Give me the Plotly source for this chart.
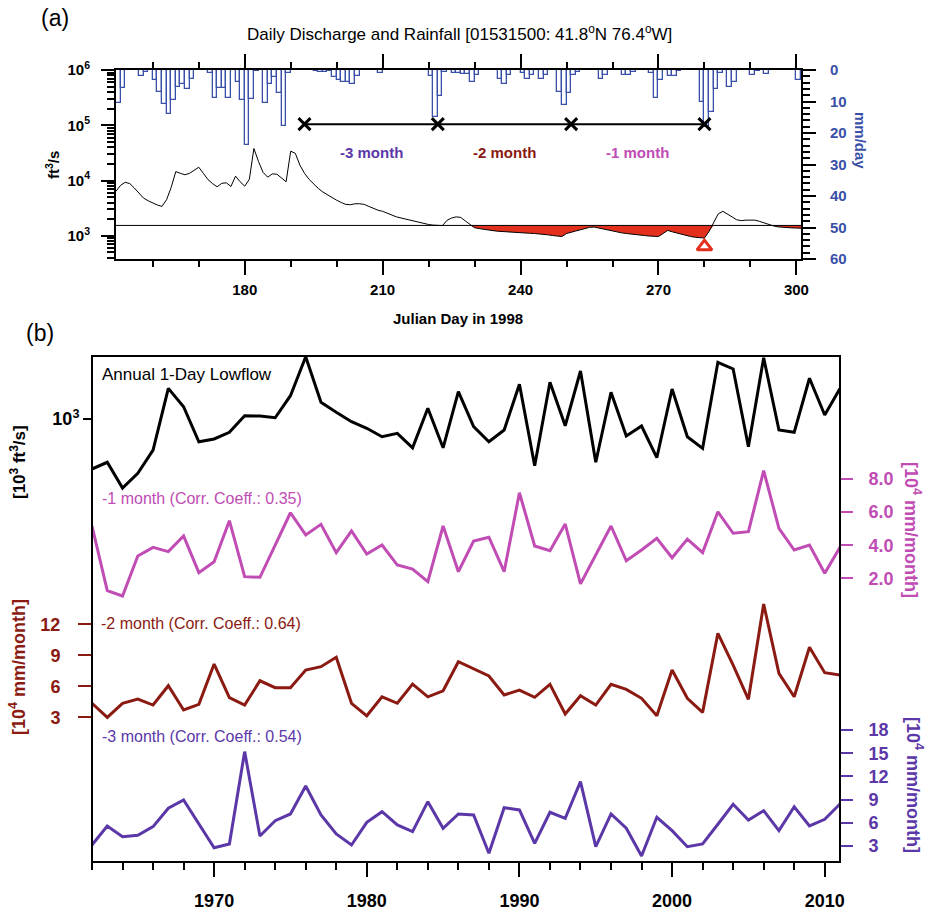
import plotly.graph_objects as go

# ---------------- Panel (a) data ----------------
days = list(range(152, 302))
discharge = [
    6400, 8200, 9300, 8800, 7300, 5800, 4800, 4300, 3900, 3600,
    3400, 4500, 7500, 14500, 13500, 12700, 13500, 15500, 17400, 13500,
    10400, 8800, 7700, 8900, 9100, 7800, 12000, 9500, 7900, 10500,
    38000, 22000, 14000, 11500, 13200, 13000, 11000, 9500, 34000, 31000,
    19000, 13500, 10500, 8500, 7200, 6200, 5500, 4900, 4400, 4000,
    3700, 3650, 3800, 3800, 3700, 3400, 3100, 2900, 2770, 2550,
    2350, 2200, 2100, 2000, 1900, 1800, 1720, 1650, 1600, 1560,
    1540, 1530, 1900, 2100, 2200, 2150, 1850, 1580, 1400, 1350,
    1300, 1270, 1240, 1210, 1190, 1170, 1160, 1150, 1130, 1120,
    1110, 1100, 1090, 1070, 1040, 1010, 980, 970, 1100, 1170,
    1220, 1280, 1350, 1420, 1440, 1380, 1320, 1250, 1200, 1160,
    1130, 1100, 1070, 1040, 1030, 1010, 990, 975, 970, 1100,
    1250, 1180, 1120, 1060, 1010, 970, 940, 920, 910, 1200,
    1700, 2500, 2770, 2500, 2200, 1950, 1880, 1920, 1950, 1920,
    1820, 1700, 1600, 1510, 1450, 1420, 1400, 1390, 1380, 1370,
]
rain = [
    10.6, 5.8, 0, 0, 0, 1.8, 0.5, 0, 3.2, 6.9,
    10.9, 14.1, 9.5, 5.3, 4.6, 6.0, 2.9, 0, 0, 0,
    1.0, 8.8, 5.6, 5.6, 9.0, 0, 3.7, 9.5, 23.8, 9.2,
    0.3, 0, 10.6, 4.6, 2.1, 7.4, 17.7, 1.0, 0, 0,
    0, 0, 0, 0.3, 0.6, 0.6, 0.3, 2.1, 3.2, 3.7,
    3.7, 4.6, 1.8, 0, 0, 0, 0, 1.0, 0, 0,
    0, 0, 0, 0, 0, 0, 0, 0, 1.8, 14.8,
    8.2, 0.5, 0, 1.0, 1.0, 1.2, 1.2, 3.7, 1.5, 0,
    0, 0, 0, 2.9, 4.5, 1.5, 0, 0, 1.0, 2.9,
    1.5, 0, 2.9, 1.5, 0, 0, 7.1, 11.1, 7.4, 1.5,
    0.5, 0, 0, 0, 0, 2.9, 1.5, 0, 0, 0,
    1.5, 1.5, 0.5, 0, 0, 0, 1.0, 9.0, 3.2, 0,
    1.8, 1.8, 0.3, 0, 0, 0, 0, 10.0, 18.0, 13.4,
    6.0, 1.0, 0, 5.3, 3.9, 0, 0, 0, 1.5, 0.4,
    0, 1.3, 0, 0, 0, 0, 0, 0, 3.2, 0,
]
threshold = 1540
month_marks = [193, 222, 251, 280]
month_labels = ["-3 month", "-2 month", "-1 month"]
a_xticks = [180, 210, 240, 270, 300]

# ---------------- Panel (b) data ----------------
years = list(range(1962, 2012))
lowflow = [
    518, 566, 403, 489, 665, 1496, 1176, 741, 769, 839,
    1044, 1040, 1017, 1359, 2270, 1245, 1092, 965, 885, 792,
    828, 685, 1151, 685, 1432, 904, 741, 865, 1578, 541,
    1622, 915, 1880, 566, 1421, 800, 912, 601, 1484, 792,
    680, 2109, 1931, 695, 2240, 865, 839, 1710, 1054, 1496,
]
rain_1m = [
    5.16, 1.25, 0.93, 3.35, 3.87, 3.61, 4.56, 2.34, 3.0, 5.48,
    2.10, 2.06, 4.0, 5.96, 4.62, 5.26, 3.55, 4.86, 3.47, 4.01,
    2.80, 2.56, 1.80, 5.16, 2.40, 4.25, 4.48, 2.40, 7.17, 3.95,
    3.67, 5.28, 1.66, 3.41, 5.16, 3.06, 3.71, 4.42, 3.24, 4.37,
    3.55, 6.02, 4.72, 4.82, 8.50, 5.02, 3.71, 4.01, 2.30, 3.87,
]
rain_2m = [
    4.36, 3.0, 4.36, 4.77, 4.19, 6.06, 3.71, 4.26, 8.16, 4.9,
    4.19, 6.54, 5.87, 5.87, 7.58, 7.9, 8.81, 4.36, 3.15, 4.99,
    4.36, 6.22, 4.99, 5.57, 8.38, 7.7, 7.0, 5.16, 5.64, 4.94,
    6.19, 3.32, 5.09, 4.19, 6.19, 5.71, 4.84, 3.15, 7.58, 4.84,
    3.48, 11.13, 8.06, 4.74, 13.97, 7.26, 4.99, 9.78, 7.32, 7.10,
]
rain_3m = [
    3.13, 5.59, 4.2, 4.38, 5.5, 7.88, 8.95, 5.84, 2.78, 3.26,
    15.2, 4.29, 6.27, 7.14, 10.76, 7.01, 4.55, 3.13, 6.06, 7.44,
    5.72, 4.85, 8.73, 5.29, 7.14, 7.01, 2.06, 7.95, 7.66, 3.35,
    7.36, 6.58, 11.32, 2.91, 7.14, 5.29, 1.71, 6.71, 4.98, 2.91,
    3.26, 5.81, 8.39, 6.36, 7.57, 4.98, 8.08, 5.59, 6.45, 8.43,
]
corr = {"1m": 0.35, "2m": 0.64, "3m": 0.54}
ticks_1m = [2, 4, 6, 8]
ticks_2m = [3, 6, 9, 12]
ticks_3m = [3, 6, 9, 12, 15, 18]

# ---------------- Style ----------------
W, H = 930, 911
FONT = "Liberation Sans, Arial, sans-serif"
BLUE = "#3a4fa8"
PURPLE = "#5b37a8"
DRED = "#8a1a12"
PINK = "#c04cb4"
RED = "#e3301c"


def fx(px):
    return px / W


def fy(py):
    return 1 - py / H


fig = go.Figure()

fig.add_trace(go.Bar(x=days, y=rain, xaxis="x", yaxis="y2", offset=0, width=1,
                     marker=dict(color="rgba(0,0,0,0)", line=dict(color=BLUE, width=1.3)),
                     showlegend=False))
fig.add_trace(go.Scatter(x=days, y=[threshold] * len(days), xaxis="x", yaxis="y",
                         mode="lines", line=dict(width=0, color=RED), showlegend=False))
fig.add_trace(go.Scatter(x=days, y=[min(q, threshold) for q in discharge], xaxis="x", yaxis="y",
                         mode="lines", line=dict(width=0, color=RED), fill="tonexty",
                         fillcolor=RED, showlegend=False))
fig.add_trace(go.Scatter(x=[days[0], days[-1]], y=[threshold, threshold], xaxis="x", yaxis="y",
                         mode="lines", line=dict(width=1, color="black"), showlegend=False))
fig.add_trace(go.Scatter(x=days, y=discharge, xaxis="x", yaxis="y", mode="lines",
                         line=dict(width=1, color="black"), showlegend=False))
mark_level = 17.2
fig.add_trace(go.Scatter(x=month_marks, y=[mark_level] * len(month_marks), xaxis="x", yaxis="y2",
                         mode="lines+markers", line=dict(width=2, color="black"),
                         marker=dict(symbol="x-thin", size=12, line=dict(width=3, color="black")),
                         showlegend=False))
qmin = min(discharge)
dmin = days[discharge.index(qmin)]
fig.add_trace(go.Scatter(x=[dmin], y=[qmin * 0.7], xaxis="x", yaxis="y", mode="markers",
                         marker=dict(symbol="triangle-up-open", size=13, color=RED,
                                     line=dict(width=3, color=RED)),
                         showlegend=False))

fig.add_trace(go.Scatter(x=years, y=lowflow, xaxis="x2", yaxis="y3", mode="lines",
                         line=dict(width=3, color="black"), showlegend=False))
fig.add_trace(go.Scatter(x=years, y=rain_1m, xaxis="x2", yaxis="y4", mode="lines",
                         line=dict(width=3, color=PINK), showlegend=False))
fig.add_trace(go.Scatter(x=years, y=rain_2m, xaxis="x2", yaxis="y5", mode="lines",
                         line=dict(width=3, color=DRED), showlegend=False))
fig.add_trace(go.Scatter(x=years, y=rain_3m, xaxis="x2", yaxis="y6", mode="lines",
                         line=dict(width=3, color=PURPLE), showlegend=False))

tickf = dict(family=FONT, size=15, color="black", weight="bold")
minor_log = [m * 10 ** e for e in (2, 3, 4, 5) for m in range(2, 10) if 380 <= m * 10 ** e <= 1e6]

common = dict(showgrid=False, zeroline=False, ticks="outside", tickwidth=2, tickcolor="black",
              automargin=False)
sub = dict(showgrid=False, zeroline=False, ticks="outside", tickwidth=2, automargin=False,
           showline=False)

fig.update_layout(
    width=W, height=H, margin=dict(l=0, r=0, t=0, b=0, pad=0, autoexpand=False),
    paper_bgcolor="white", plot_bgcolor="white",
    font=dict(family=FONT, color="black"),
    bargap=0,
    xaxis=dict(domain=[fx(116), fx(801)], range=[days[0], days[-1]], anchor="y",
               tickvals=a_xticks, ticklen=14, showline=True, linewidth=2, linecolor="black",
               mirror="ticks", tickfont=tickf, ticklabelstandoff=2,
               minor=dict(tickvals=[d for d in range(160, 301, 10) if d not in a_xticks],
                          ticks="outside", ticklen=6, tickwidth=1.5, tickcolor="black"),
               **common),
    yaxis=dict(domain=[fy(259), fy(70)], type="log", range=[2.58, 6], anchor="x",
               tickvals=[1e3, 1e4, 1e5, 1e6],
               ticktext=["10<sup>3</sup>", "10<sup>4</sup>", "10<sup>5</sup>", "10<sup>6</sup>"],
               ticklen=13, showline=True, linewidth=2, linecolor="black", tickfont=tickf,
               ticklabelstandoff=8,
               minor=dict(tickvals=minor_log, ticks="outside", ticklen=7, tickwidth=1.5, tickcolor="black"),
               **common),
    yaxis2=dict(overlaying="y", side="right", range=[60, 0], anchor="x",
                tickvals=list(range(0, 61, 10)), ticklen=13, showline=True, linewidth=2,
                linecolor="black", tickfont=dict(family=FONT, size=15, color=BLUE, weight="bold"),
                ticklabelstandoff=11,
                minor=dict(dtick=2, tick0=0, ticks="outside", ticklen=7, tickwidth=1.5, tickcolor="black"),
                **common),
    xaxis2=dict(domain=[fx(92), fx(840)], range=[years[0], years[-1]], anchor="y3",
                dtick=10, tick0=1970, ticklen=14, showline=False,
                tickfont=dict(family=FONT, size=18, color="black", weight="bold"), ticklabelstandoff=8,
                minor=dict(dtick=2, tick0=1962, ticks="outside", ticklen=7, tickwidth=2, tickcolor="black"),
                **common),
    yaxis3=dict(domain=[fy(862), fy(356)], type="log", range=[0.469, 3.36], anchor="x2",
                side="left", tickvals=[1000], ticktext=["10<sup>3</sup>"], ticklen=8,
                showline=False, tickfont=dict(family=FONT, size=18, color="black", weight="bold"),
                ticklabelstandoff=0, **common),
    yaxis4=dict(overlaying="y3", side="right", range=[-15.14, 15.43], anchor="x2",
                tickvals=ticks_1m, ticktext=["%.1f" % v for v in ticks_1m], ticklen=12,
                tickcolor=PINK, ticklabelstandoff=12,
                tickfont=dict(family=FONT, size=18, color=PINK, weight="bold"), **sub),
    yaxis5=dict(overlaying="y3", side="left", range=[-11.0, 37.97], anchor="x2",
                tickvals=ticks_2m, ticklen=13, tickcolor=DRED, ticklabelstandoff=14,
                tickfont=dict(family=FONT, size=18, color=DRED, weight="bold"), **sub),
    yaxis6=dict(overlaying="y3", side="right", range=[0.93, 66.36], anchor="x2",
                tickvals=ticks_3m, ticklen=12, tickcolor=PURPLE, ticklabelstandoff=12,
                tickfont=dict(family=FONT, size=18, color=PURPLE, weight="bold"), **sub),
)

fig.add_shape(type="rect", xref="paper", yref="paper", x0=fx(92), x1=fx(840), y0=fy(862), y1=fy(356),
              line=dict(color="black", width=2), layer="above")


def ann(text, x, y, size, color="black", bold=False, angle=0, xanchor="center"):
    fig.add_annotation(text=text, x=fx(x), y=fy(y), xref="paper", yref="paper", showarrow=False,
                       font=dict(family=FONT, size=size, color=color, weight="bold" if bold else "normal"),
                       textangle=angle, xanchor=xanchor, yanchor="middle")


ann("(a)", 55, 18, 23)
ann("Daily Discharge and Rainfall [01531500: 41.8<sup>o</sup>N 76.4<sup>o</sup>W]", 459, 33, 17)
ann("ft<sup>3</sup>/s", 52, 165, 15, bold=True, angle=-90)
ann("mm/day", 861, 140, 15, color=BLUE, bold=True, angle=90)
ann("Julian Day in 1998", 458, 318, 15, bold=True)

mark_cols = [PURPLE, DRED, PINK]
for i, lab in enumerate(month_labels):
    fig.add_annotation(text=lab, x=(month_marks[i] + month_marks[i + 1]) / 2, xref="x",
                       y=fy(142), yref="paper", showarrow=False,
                       font=dict(family=FONT, size=15, color=mark_cols[i], weight="bold"))

ann("(b)", 40, 333, 23)
ann("Annual 1-Day Lowflow", 100, 375, 17, xanchor="left")
ann("-1 month (Corr. Coeff.: %.2f)" % corr["1m"], 100, 498, 16, color=PINK, xanchor="left")
ann("-2 month (Corr. Coeff.: %.2f)" % corr["2m"], 99, 623, 16, color=DRED, xanchor="left")
ann("-3 month (Corr. Coeff.: %.2f)" % corr["3m"], 100, 736, 16, color=PURPLE, xanchor="left")
ann("[10<sup>3</sup> ft<sup>3</sup>/s]", 18, 462, 17, bold=True, angle=-90)
ann("[10<sup>4</sup> mm/month]", 913, 530, 18, color=PINK, bold=True, angle=90)
ann("[10<sup>4</sup> mm/month]", 17, 667, 18, color=DRED, bold=True, angle=-90)
ann("[10<sup>4</sup> mm/month]", 915, 785, 18, color=PURPLE, bold=True, angle=90)

fig.write_html("out.html", config={"displayModeBar": False},
               post_script="document.body.style.margin='0';document.body.style.padding='0';"
                           "document.body.style.overflow='hidden';")
